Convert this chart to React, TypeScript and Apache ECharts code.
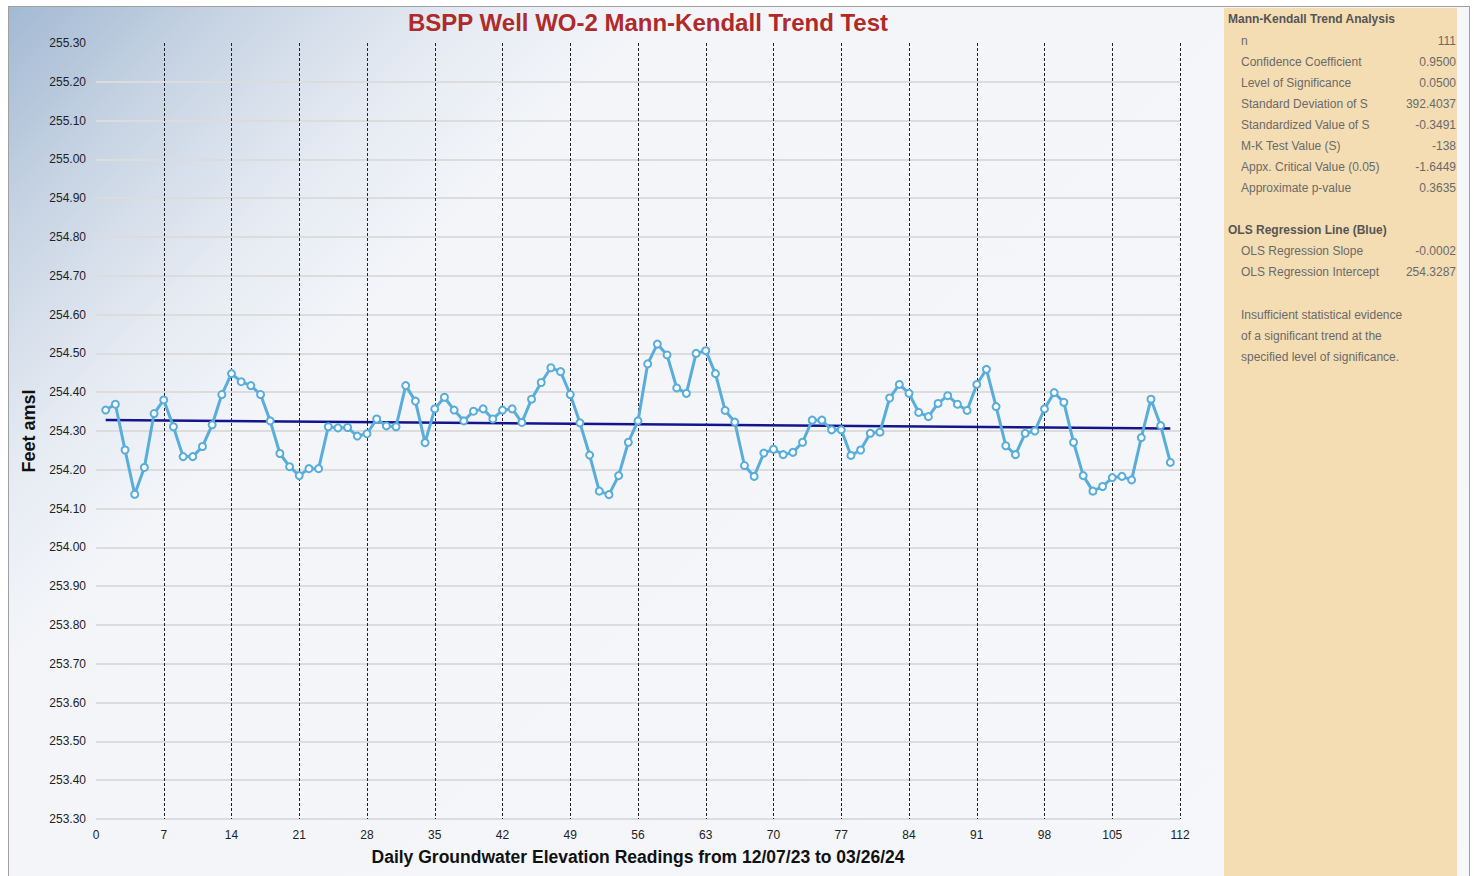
import React, { useEffect, useRef } from "react";
import * as echarts from "echarts";

const title = "BSPP Well WO-2 Mann-Kendall Trend Test";
const xAxisName = "Daily Groundwater Elevation Readings from 12/07/23 to 03/26/24";
const yAxisName = "Feet amsl";

// Daily readings, index 1..111
const readingIndex: number[] = Array.from({ length: 111 }, (_, i) => i + 1);
const elevations: number[] = [
  254.354, 254.369, 254.251, 254.137, 254.206, 254.345, 254.380, 254.311, 254.234, 254.234,
  254.260, 254.316, 254.394, 254.448, 254.427, 254.417, 254.394, 254.326, 254.242, 254.208,
  254.185, 254.203, 254.203, 254.311, 254.308, 254.309, 254.287, 254.293, 254.331, 254.313,
  254.311, 254.417, 254.377, 254.270, 254.357, 254.387, 254.354, 254.326, 254.351, 254.357,
  254.331, 254.354, 254.357, 254.322, 254.382, 254.425, 254.463, 254.453, 254.394, 254.321,
  254.238, 254.145, 254.136, 254.185, 254.271, 254.326, 254.473, 254.524, 254.496, 254.411,
  254.397, 254.500, 254.507, 254.448, 254.353, 254.323, 254.211, 254.183, 254.243, 254.253,
  254.239, 254.245, 254.271, 254.328, 254.328, 254.303, 254.303, 254.237, 254.251, 254.294,
  254.297, 254.385, 254.420, 254.397, 254.348, 254.337, 254.371, 254.391, 254.369, 254.353,
  254.420, 254.459, 254.363, 254.262, 254.239, 254.294, 254.300, 254.357, 254.399, 254.374,
  254.271, 254.185, 254.145, 254.157, 254.180, 254.183, 254.174, 254.283, 254.382, 254.314,
  254.219,
];

// OLS regression line endpoints
const regressionX: number[] = [1, 111];
const regressionY: number[] = [254.3285, 254.3065];

const xTickInterval = 7;
const yTickInterval = 0.1;

const statsHeader = "Mann-Kendall Trend Analysis";
const statLabels: string[] = [
  "n",
  "Confidence Coefficient",
  "Level of Significance",
  "Standard Deviation of S",
  "Standardized Value of S",
  "M-K Test Value (S)",
  "Appx. Critical Value (0.05)",
  "Approximate p-value",
];
const statValues: string[] = ["111", "0.9500", "0.0500", "392.4037", "-0.3491", "-138", "-1.6449", "0.3635"];
const olsHeader = "OLS Regression Line (Blue)";
const olsLabels: string[] = ["OLS Regression Slope", "OLS Regression Intercept"];
const olsValues: string[] = ["-0.0002", "254.3287"];
const conclusion: string[] = [
  "Insufficient statistical evidence",
  "of a significant trend at the",
  "specified level of significance.",
];

export default function App() {
  const ref = useRef<HTMLDivElement>(null);

  useEffect(() => {
    if (!ref.current) return;
    const chart = echarts.init(ref.current, undefined, { renderer: "svg" });

    const font = "Arial, 'Liberation Sans', sans-serif";
    const panelText: any[] = [];
    const labelColor = "#6a6a6a";
    panelText.push({
      type: "text",
      left: 1228,
      top: 13,
      style: { text: statsHeader, font: `bold 12px ${font}`, fill: "#555" },
    });
    statLabels.forEach((l, i) => {
      panelText.push({
        type: "text",
        x: 1241,
        y: 41 + i * 21,
        style: { text: l, font: `12px ${font}`, fill: labelColor, verticalAlign: "middle" },
      });
      panelText.push({
        type: "text",
        x: 1456,
        y: 41 + i * 21,
        style: { text: statValues[i], font: `12px ${font}`, fill: labelColor, align: "right", verticalAlign: "middle" },
      });
    });
    panelText.push({
      type: "text",
      x: 1228,
      y: 230,
      style: { text: olsHeader, font: `bold 12px ${font}`, fill: "#555", verticalAlign: "middle" },
    });
    olsLabels.forEach((l, i) => {
      panelText.push({
        type: "text",
        x: 1241,
        y: 251 + i * 21,
        style: { text: l, font: `12px ${font}`, fill: labelColor, verticalAlign: "middle" },
      });
      panelText.push({
        type: "text",
        x: 1456,
        y: 251 + i * 21,
        style: { text: olsValues[i], font: `12px ${font}`, fill: labelColor, align: "right", verticalAlign: "middle" },
      });
    });
    conclusion.forEach((l, i) => {
      panelText.push({
        type: "text",
        x: 1241,
        y: 315 + i * 21,
        style: { text: l, font: `12px ${font}`, fill: labelColor, verticalAlign: "middle" },
      });
    });

    chart.setOption({
      animation: false,
      backgroundColor: "transparent",
      textStyle: { fontFamily: font },
      title: {
        text: title,
        left: 643,
        top: 5,
        textAlign: "center",
        textStyle: { color: "#b02a2a", fontSize: 24, fontWeight: "bold", fontFamily: font },
      },
      grid: { left: 96, right: 294, top: 43, bottom: 57, containLabel: false },
      xAxis: {
        type: "value",
        min: 0,
        max: 112,
        interval: xTickInterval,
        name: xAxisName,
        nameLocation: "middle",
        nameGap: 29,
        nameTextStyle: { fontSize: 17.5, fontWeight: "bold", color: "#111", fontFamily: font },
        axisLine: { show: false },
        axisTick: { show: false },
        axisLabel: { color: "#222", fontSize: 12, margin: 10, fontFamily: font },
        splitLine: {
          show: true,
          showMinLine: false,
          lineStyle: { color: "#222", width: 1, type: [3, 2] },
        },
      },
      yAxis: {
        type: "value",
        min: 253.3,
        max: 255.3,
        interval: yTickInterval,
        name: yAxisName,
        nameLocation: "middle",
        nameGap: 56,
        nameTextStyle: { fontSize: 18, fontWeight: "bold", color: "#111", fontFamily: font },
        axisLine: { show: false },
        axisTick: { show: false },
        axisLabel: {
          color: "#222",
          fontSize: 12,
          margin: 10,
          fontFamily: font,
          formatter: (v: number) => v.toFixed(2),
        },
        splitLine: {
          show: true,
          showMaxLine: false,
          lineStyle: { color: "#dcdcdc", width: 2 },
        },
      },
      graphic: [
        {
          type: "rect",
          shape: { x: 1224, y: 8, width: 233, height: 868 },
          style: { fill: "#f4ddb3" },
          z: -1,
        },
        ...panelText,
      ],
      series: [
        {
          type: "line",
          data: regressionX.map((x, i) => [x, regressionY[i]]),
          showSymbol: false,
          symbol: "none",
          lineStyle: { color: "#14148c", width: 2.5 },
          z: 2,
        },
        {
          type: "line",
          data: readingIndex.map((x, i) => [x, elevations[i]]),
          symbol: "circle",
          symbolSize: 7,
          showSymbol: true,
          lineStyle: { color: "#59addb", width: 3 },
          itemStyle: { color: "#ffffff", borderColor: "#59addb", borderWidth: 2 },
          z: 3,
        },
      ],
    });

    return () => chart.dispose();
  }, []);

  return (
    <div
      style={{
        position: "fixed",
        left: 0,
        top: 0,
        width: 1474,
        height: 876,
        background: "#ffffff",
      }}
    >
      <div
        style={{
          position: "absolute",
          left: 8,
          top: 6,
          width: 1462,
          height: 876,
          border: "1px solid #a0a0a0",
          boxSizing: "border-box",
          background:
            "linear-gradient(135deg, #a3b9d3 0%, #c9d5e4 10%, #e6ebf3 20%, #f3f5f9 28%, #f5f7fa 100%)",
        }}
      />
      <div ref={ref} style={{ position: "absolute", left: 0, top: 0, width: 1474, height: 876 }} />
    </div>
  );
}
